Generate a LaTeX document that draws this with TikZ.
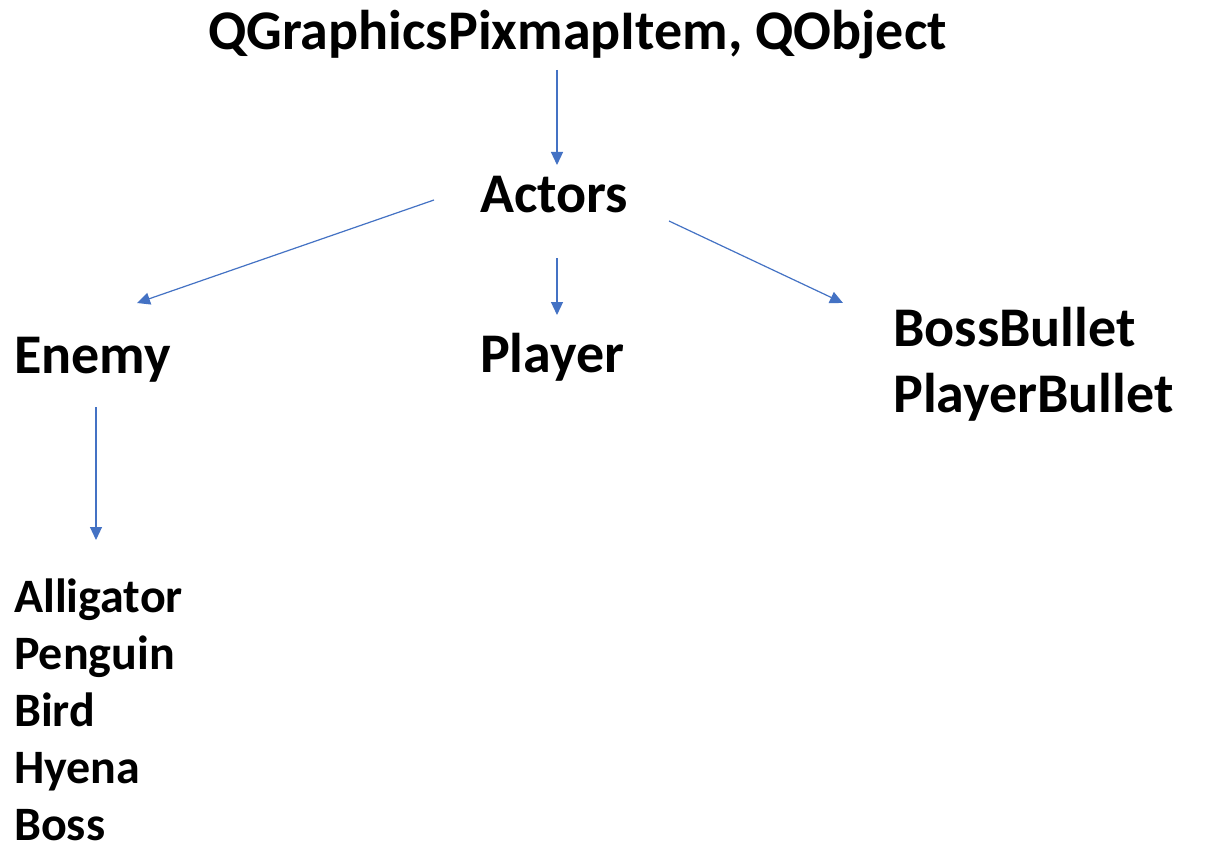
\documentclass[tikz,border=0pt]{standalone}
\usepackage{fontspec}
\setmainfont{Carlito}
\usetikzlibrary{arrows.meta}
\definecolor{arrowblue}{HTML}{4472C4}
\tikzset{
  lbl/.style={anchor=base west, inner sep=0pt, font=\bfseries\fontsize{#1}{#1}\selectfont},
  conn/.style={draw=arrowblue, line width=1.2pt, -{Triangle[length=13pt,width=12pt]}}
}
\begin{document}
\begin{tikzpicture}[x=1pt,y=-1pt]
\useasboundingbox[fill=white] (0,0) rectangle (1208,856);
\node[lbl=56] (top) at (208,50) {QGraphicsPixmapItem, QObject};
\node[lbl=56] (actors) at (480,212) {Actors};
\node[lbl=56] (enemy) at (14,373) {Enemy};
\node[lbl=56] (player) at (480,372) {Player};
\node[lbl=56] (bossbullet) at (893,346) {BossBullet};
\node[lbl=56] (playerbullet) at (893,412) {PlayerBullet};
\node[lbl=48] (alligator) at (14,612) {Alligator};
\node[lbl=48] (penguin) at (14,669) {Penguin};
\node[lbl=48] (bird) at (14,726) {Bird};
\node[lbl=48] (hyena) at (14,783) {Hyena};
\node[lbl=48] (boss) at (14,840) {Boss};
\coordinate (a1s) at (557,70);
\coordinate (a1e) at (557,165);
\coordinate (a2s) at (434,200);
\coordinate (a2e) at (137,303);
\coordinate (a3s) at (557,258);
\coordinate (a3e) at (557,315);
\coordinate (a4s) at (669,221);
\coordinate (a4e) at (843,303);
\coordinate (a5s) at (96,407);
\coordinate (a5e) at (96,540);
\draw[conn] (a1s) -- (a1e);
\draw[conn] (a2s) -- (a2e);
\draw[conn] (a3s) -- (a3e);
\draw[conn] (a4s) -- (a4e);
\draw[conn] (a5s) -- (a5e);
\end{tikzpicture}
\end{document}
